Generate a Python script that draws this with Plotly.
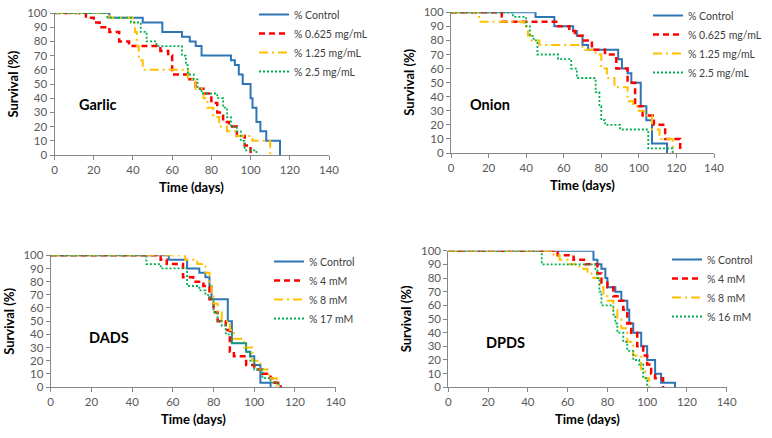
import plotly.graph_objects as go

# ---- Garlic ----
garlic_ctrl_t = [0, 28, 45, 55, 65, 69, 72, 75, 90, 92, 94, 96, 97, 100, 101, 103, 105, 108, 115]
garlic_ctrl_s = [100, 96.7, 93.3, 86.7, 83.3, 80, 76.7, 70, 66.7, 63.3, 56.7, 50, 50, 40, 33.3, 23.3, 16.7, 10, 0]
garlic_low_t = [0, 16, 20, 23, 28, 33, 38, 54, 58, 60, 68, 72, 76, 80, 83, 86, 89, 93, 97, 100]
garlic_low_s = [100, 96.7, 93.3, 90, 86.7, 80, 76.7, 73.3, 70, 56.7, 53.3, 46.7, 43.3, 36.7, 30, 23.3, 20, 13.3, 6.7, 0]
garlic_mid_t = [0, 28, 40, 41, 42, 43, 45, 68, 72, 76, 78, 81, 84, 88, 93, 101, 110]
garlic_mid_s = [100, 96.7, 93.3, 86.7, 76.7, 66.7, 60, 53.3, 46.7, 40, 33.3, 26.7, 20, 16.7, 13.3, 10, 0]
garlic_high_t = [0, 27, 39, 44, 47, 52, 65, 67, 68, 71, 73, 75, 83, 86, 88, 90, 93, 95, 97, 103]
garlic_high_s = [100, 96.7, 93.3, 86.7, 80, 76.7, 70, 63.3, 56.7, 53.3, 46.7, 43.3, 40, 33.3, 26.7, 20, 16.7, 10, 3.3, 0]

# ---- Onion ----
onion_ctrl_t = [0, 45, 55, 65, 67, 70, 73, 89, 91, 94, 96, 101, 104, 107, 115]
onion_ctrl_s = [100, 96.7, 90, 86.7, 83.3, 76.7, 73.3, 66.7, 60, 56.7, 50, 33.3, 23.3, 6.7, 0]
onion_low_t = [0, 27, 56, 63, 66, 70, 75, 82, 88, 94, 98, 102, 108, 114, 122]
onion_low_s = [100, 93.3, 90, 86.7, 83.3, 80, 73.3, 70, 60, 50, 33.3, 26.7, 20, 10, 0]
onion_mid_t = [0, 15, 39, 41, 43, 47, 70, 77, 80, 83, 87, 94, 97, 100, 103, 107, 111, 118]
onion_mid_s = [100, 93.3, 90, 83.3, 80, 76.7, 73.3, 70, 60, 53.3, 46.7, 36.7, 33.3, 30, 26.7, 16.7, 10, 0]
onion_high_t = [0, 33, 40, 42, 44, 46, 57, 64, 67, 77, 79, 80, 82, 90, 105, 118]
onion_high_s = [100, 96.7, 90, 83.3, 80, 70, 66.7, 60, 53.3, 43.3, 33.3, 23.3, 20, 16.7, 3.3, 0]

# ---- DADS ----
dads_ctrl_t = [0, 58, 67, 73, 76, 78, 79, 87, 89, 96, 98, 100, 103, 108]
dads_ctrl_s = [100, 96.7, 90, 86.7, 83.3, 76.7, 66.7, 50, 33.3, 26.7, 23.3, 16.7, 3.3, 0]
dads_4_t = [0, 54, 57, 65, 70, 75, 78, 80, 82, 86, 88, 90, 96, 100, 104, 108, 110, 113]
dads_4_s = [100, 96.7, 93.3, 83.3, 80, 76.7, 66.7, 56.7, 50, 43.3, 26.7, 23.3, 16.7, 13.3, 10, 6.7, 3.3, 0]
dads_8_t = [0, 66, 72, 76, 78, 79, 80, 82, 84, 88, 90, 95, 99, 103, 107, 111]
dads_8_s = [100, 96.7, 93.3, 86.7, 80, 70, 63.3, 56.7, 50, 43.3, 36.7, 30, 20, 13.3, 6.7, 0]
dads_17_t = [0, 47, 54, 67, 73, 76, 78, 80, 82, 84, 86, 89, 96, 98, 100, 104, 108, 112]
dads_17_s = [100, 93.3, 90, 76.7, 73.3, 70, 66.7, 56.7, 50, 46.7, 40, 33.3, 26.7, 20, 13.3, 6.7, 3.3, 0]

# ---- DPDS ----
dpds_ctrl_t = [0, 73, 75, 77, 79, 80, 84, 87, 90, 91, 93, 97, 100, 104, 107, 114]
dpds_ctrl_s = [100, 93.3, 90, 86.7, 80, 73.3, 70, 63.3, 56.7, 46.7, 40, 30, 20, 10, 3.3, 0]
dpds_4_t = [0, 55, 63, 69, 75, 77, 80, 83, 86, 88, 90, 92, 95, 98, 100, 102, 104, 108]
dpds_4_s = [100, 96.7, 93.3, 90, 83.3, 76.7, 73.3, 66.7, 63.3, 56.7, 46.7, 40, 30, 23.3, 16.7, 10, 6.7, 0]
dpds_8_t = [0, 53, 56, 60, 66, 70, 73, 76, 78, 80, 83, 85, 87, 90, 93, 97, 99, 101]
dpds_8_s = [100, 96.7, 93.3, 90, 86.7, 83.3, 80, 73.3, 66.7, 63.3, 56.7, 50, 43.3, 33.3, 23.3, 13.3, 6.7, 0]
dpds_16_t = [0, 47, 74, 75, 76, 77, 83, 84, 85, 88, 90, 93, 96, 98, 100]
dpds_16_s = [100, 90, 86.7, 80, 70, 60, 53.3, 46.7, 40, 33.3, 26.7, 20, 16.7, 6.7, 0]

garlic_names = ["% Control", "% 0.625 mg/mL", "% 1.25 mg/mL", "% 2.5 mg/mL"]
dads_names = ["% Control", "% 4 mM", "% 8 mM", "% 17 mM"]
dpds_names = ["% Control", "% 4 mM", "% 8 mM", "% 16 mM"]

x_ticks = [0, 20, 40, 60, 80, 100, 120, 140]
y_ticks = [0, 10, 20, 30, 40, 50, 60, 70, 80, 90, 100]

styles = [
    dict(color="#2e75b6", width=2, dash="solid"),
    dict(color="#ff0000", width=2.5, dash="6px,4px"),
    dict(color="#ffc000", width=2, dash="9px,4px,2px,4px"),
    dict(color="#00b050", width=1.8, dash="2px,2px"),
]

W, H = 772, 438
# panel: label, series, names, plot box in pixels (left, right, top, bottom), label pos, legend pos
panels = [
    ("Garlic", [(garlic_ctrl_t, garlic_ctrl_s), (garlic_low_t, garlic_low_s),
                (garlic_mid_t, garlic_mid_s), (garlic_high_t, garlic_high_s)],
     garlic_names, (54.5, 329, 13, 155), (77, 105), (254, 0)),
    ("Onion", [(onion_ctrl_t, onion_ctrl_s), (onion_low_t, onion_low_s),
               (onion_mid_t, onion_mid_s), (onion_high_t, onion_high_s)],
     garlic_names, (451, 714, 12.3, 153), (468, 105), (648, 1)),
    ("DADS", [(dads_ctrl_t, dads_ctrl_s), (dads_4_t, dads_4_s),
              (dads_8_t, dads_8_s), (dads_17_t, dads_17_s)],
     dads_names, (50.7, 335.7, 255.3, 387), (87, 337), (269, 247)),
    ("DPDS", [(dpds_ctrl_t, dpds_ctrl_s), (dpds_4_t, dpds_4_s),
              (dpds_8_t, dpds_8_s), (dpds_16_t, dpds_16_s)],
     dpds_names, (448.3, 726.7, 250.7, 387.3), (484, 342), (667, 245)),
]

fig = go.Figure()
annotations = []
layout = {}
tick_font = dict(family="Lato, Open Sans, sans-serif", size=11.5, color="#595959")
title_font = dict(family="Lato, Open Sans, sans-serif", size=13, color="#000000")

for i, (label, series, names, box, lab_pos, leg_pos) in enumerate(panels):
    n = i + 1
    xa = "x" if n == 1 else f"x{n}"
    ya = "y" if n == 1 else f"y{n}"
    leg = "legend" if n == 1 else f"legend{n}"
    left, right, top, bottom = box
    for (t, s), name, st in zip(series, names, styles):
        fig.add_trace(go.Scatter(
            x=t, y=s, name=name, mode="lines", line_shape="hv",
            line=st, xaxis=xa, yaxis=ya, legend=leg, hoverinfo="skip"))
    axis_common = dict(showgrid=False, zeroline=False, showline=True,
                       linecolor="#868686", linewidth=1, ticks="outside",
                       ticklen=4, tickcolor="#868686", tickfont=tick_font)
    layout["xaxis" if n == 1 else f"xaxis{n}"] = dict(
        axis_common, domain=[left / W, right / W], range=[0, 140],
        tickvals=x_ticks, anchor=ya)
    layout["yaxis" if n == 1 else f"yaxis{n}"] = dict(
        axis_common, domain=[1 - bottom / H, 1 - top / H], range=[0, 100],
        tickvals=y_ticks, anchor=xa)
    layout[leg] = dict(x=leg_pos[0] / W, y=1 - leg_pos[1] / H, xanchor="left",
                       yanchor="top", bgcolor="rgba(0,0,0,0)", itemwidth=30,
                       font=dict(family="Lato, Open Sans, sans-serif", size=10.5, color="#404040"),
                       tracegroupgap=0)
    annotations.append(dict(text=f"<b>{label}</b>", x=lab_pos[0] / W, y=1 - lab_pos[1] / H,
                            xref="paper", yref="paper", xanchor="left", yanchor="middle",
                            showarrow=False,
                            font=dict(family="Lato, Open Sans, sans-serif", size=14.5, color="#000000")))
    annotations.append(dict(text="<b>Time (days)</b>", x=(left + right) / 2 / W,
                            y=1 - (bottom + 32) / H, xref="paper", yref="paper",
                            xanchor="center", yanchor="middle", showarrow=False, font=title_font))
    annotations.append(dict(text="<b>Survival (%)</b>", x=(left - 42) / W,
                            y=1 - (top + bottom) / 2 / H, xref="paper", yref="paper",
                            xanchor="center", yanchor="middle", textangle=-90,
                            showarrow=False, font=title_font))

fig.update_layout(
    width=W, height=H, margin=dict(l=0, r=0, t=0, b=0, autoexpand=False),
    paper_bgcolor="white", plot_bgcolor="white",
    annotations=annotations, **layout)

# drop the browser's default body margin so the figure sits at the window origin
fig.write_html("out.html", config={"displayModeBar": False},
               post_script="document.body.style.margin = '0';")
